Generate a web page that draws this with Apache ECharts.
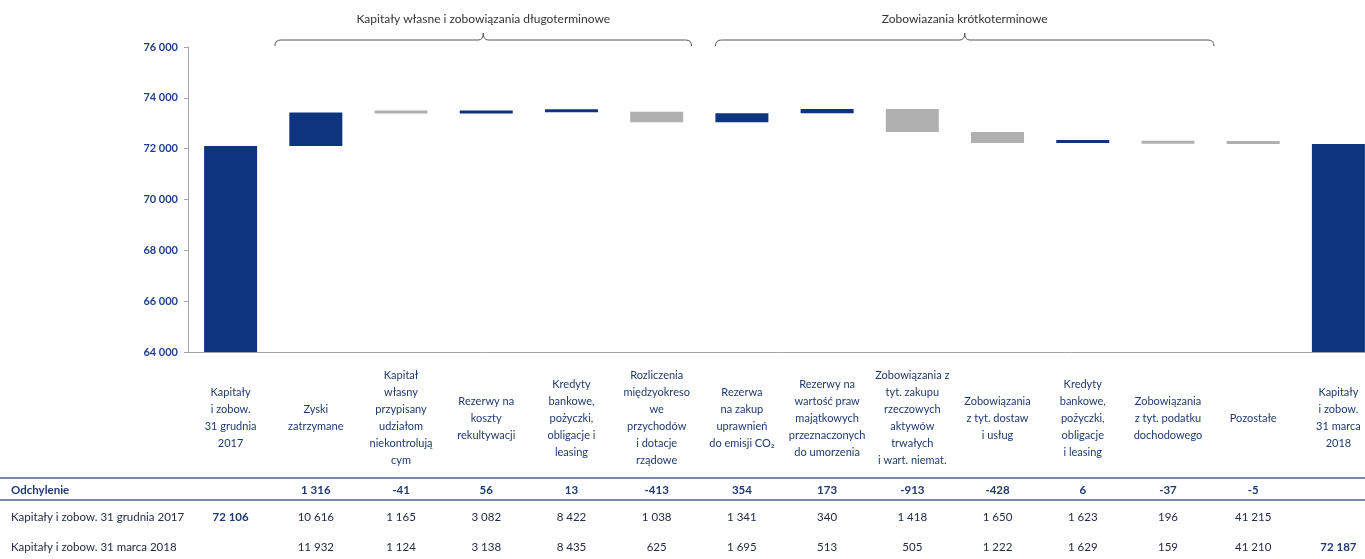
<!DOCTYPE html>
<html lang="pl">
<head>
<meta charset="utf-8">
<title>Kapitały i zobowiązania – zmiana</title>
<script src="https://cdn.jsdelivr.net/npm/echarts@6/dist/echarts.min.js"></script>
<style>
  html, body { margin: 0; padding: 0; background: #ffffff; }
  #chart { width: 1365px; height: 559px; }
</style>
</head>
<body>
<div id="chart"></div>
<script>
// Pozycje bilansu (kategorie osi X)
const categories = [
  'Kapitały\ni zobow.\n31 grudnia\n2017',
  'Zyski\nzatrzymane',
  'Kapitał\nwłasny\nprzypisany\nudziałom\nniekontrolują\ncym',
  'Rezerwy na\nkoszty\nrekultywacji',
  'Kredyty\nbankowe,\npożyczki,\nobligacje i\nleasing',
  'Rozliczenia\nmiędzyokreso\nwe\nprzychodów\ni dotacje\nrządowe',
  'Rezerwa\nna zakup\nuprawnień\ndo emisji CO₂',
  'Rezerwy na\nwartość praw\nmajątkowych\nprzeznaczonych\ndo umorzenia',
  'Zobowiązania z\ntyt. zakupu\nrzeczowych\naktywów\ntrwałych\ni wart. niemat.',
  'Zobowiązania\nz tyt. dostaw\ni usług',
  'Kredyty\nbankowe,\npożyczki,\nobligacje\ni leasing',
  'Zobowiązania\nz tyt. podatku\ndochodowego',
  'Pozostałe',
  'Kapitały\ni zobow.\n31 marca\n2018'
];

// Sumy bilansowe na początek i koniec okresu
const openingTotal = 72106;
const closingTotal = 72187;

// Odchylenia poszczególnych pozycji (środkowe kategorie)
const deviations = [1316, -41, 56, 13, -413, 354, 173, -913, -428, 6, -37, -5];

// Stany pozycji na obie daty
const balanceDec2017 = [10616, 1165, 3082, 8422, 1038, 1341, 340, 1418, 1650, 1623, 196, 41215];
const balanceMar2018 = [11932, 1124, 3138, 8435, 625, 1695, 513, 505, 1222, 1629, 159, 41210];

// Etykiety wierszy tabeli
const rowLabels = ['Odchylenie', 'Kapitały i zobow. 31 grudnia 2017', 'Kapitały i zobow. 31 marca 2018'];

// Zakres osi Y
const yMin = 64000, yMax = 76000, yStep = 2000;

// Grupy pozycji opisane klamrami nad wykresem
const groups = [
  { name: 'Kapitały własne i zobowiązania długoterminowe', from: 1, to: 5, padL: 0.48, padR: 0.41 },
  { name: 'Zobowiazania krótkoterminowe', from: 6, to: 11, padL: 0.31, padR: 0.54 }
];

const NAVY = '#0e347e';
const GREY = '#b0b0b0';
const FONT = 'Lato, "Open Sans", sans-serif';

function fmt(n) {
  const s = String(Math.abs(n)).replace(/\B(?=(\d{3})+(?!\d))/g, ' ');
  return (n < 0 ? '-' : '') + s;
}

// Budowa warstw wykresu kaskadowego
const baseData = [];
const deltaData = [];
let running = openingTotal;
baseData.push('-');
deltaData.push({ value: openingTotal, itemStyle: { color: NAVY } });
deviations.forEach(d => {
  const next = running + d;
  baseData.push(Math.min(running, next));
  deltaData.push({ value: Math.abs(d), itemStyle: { color: d >= 0 ? NAVY : GREY } });
  running = next;
});
baseData.push('-');
deltaData.push({ value: closingTotal, itemStyle: { color: NAVY } });

// Wartości wierszy tabeli w układzie kolumn wykresu
const rowDev = [''].concat(deviations.map(fmt)).concat(['']);
const rowDec = [fmt(openingTotal)].concat(balanceDec2017.map(fmt)).concat(['']);
const rowMar = [''].concat(balanceMar2018.map(fmt)).concat([fmt(closingTotal)]);

const gridLeft = 188, gridTop = 47, gridBottom = 207, gridWidth = 1193;
const axisY = 559 - gridBottom;

function tableAxis(values, offset, boldIdx) {
  return {
    type: 'category',
    data: categories,
    position: 'bottom',
    offset: offset,
    axisLine: { show: false },
    axisTick: { show: false },
    axisLabel: {
      interval: 0,
      margin: 0,
      verticalAlign: 'middle',
      formatter: (v, i) => (boldIdx(i) ? '{b|' + values[i] + '}' : '{n|' + values[i] + '}'),
      rich: {
        b: { fontFamily: FONT, fontSize: 11.5, fontWeight: 'bold', color: '#1f3a72' },
        n: { fontFamily: FONT, fontSize: 11.5, color: '#222c44' }
      }
    }
  };
}

const chart = echarts.init(document.getElementById('chart'), null, { renderer: 'canvas' });

chart.setOption({
  animation: false,
  backgroundColor: '#ffffff',
  grid: {
    left: gridLeft, top: gridTop, bottom: gridBottom, width: gridWidth,
    containLabel: false, outerBoundsMode: 'none'
  },
  xAxis: [
    {
      type: 'category',
      data: categories,
      axisLine: { show: true, lineStyle: { color: '#a6a6a6', width: 1 } },
      axisTick: { show: false },
      axisLabel: {
        interval: 0,
        margin: 66,
        verticalAlign: 'middle',
        fontFamily: FONT,
        fontSize: 11,
        lineHeight: 17,
        color: '#1f3a6e',
        align: 'center'
      }
    },
    tableAxis(rowDev, 490 - axisY, () => true),
    tableAxis(rowDec, 517 - axisY, i => i === 0),
    tableAxis(rowMar, 547 - axisY, i => i === categories.length - 1)
  ],
  yAxis: {
    type: 'value',
    min: yMin,
    max: yMax,
    interval: yStep,
    splitLine: { show: false },
    axisLine: { show: true, lineStyle: { color: '#a6a6a6', width: 1 } },
    axisTick: { show: true, length: 4, lineStyle: { color: '#a6a6a6' } },
    axisLabel: {
      margin: 10,
      fontFamily: FONT,
      fontSize: 11,
      fontWeight: 'bold',
      color: '#1f3f8f',
      formatter: v => fmt(v)
    }
  },
  series: [
    {
      name: 'base',
      type: 'bar',
      stack: 'waterfall',
      barWidth: 53,
      silent: true,
      itemStyle: { color: 'transparent' },
      data: baseData
    },
    {
      name: 'delta',
      type: 'bar',
      stack: 'waterfall',
      barWidth: 53,
      barMinHeight: 3,
      data: deltaData
    }
  ]
});

// Klamry grup, linie i opisy wierszy tabeli
function drawDecorations() {
  const band = gridWidth / categories.length;
  const els = [];
  const braceStyle = { stroke: '#555555', lineWidth: 1, fill: null };
  groups.forEach(g => {
    const x1 = chart.convertToPixel({ xAxisIndex: 0 }, g.from) - band * g.padL;
    const x2 = chart.convertToPixel({ xAxisIndex: 0 }, g.to) + band * g.padR;
    const mid = (x1 + x2) / 2;
    const yb = 40, ye = 46, yt = 33;
    const curve = (ax, ay, cx, cy, bx, by) => ({
      type: 'bezierCurve',
      shape: { x1: ax, y1: ay, x2: bx, y2: by, cpx1: cx, cpy1: cy },
      style: braceStyle
    });
    const seg = (ax, bx) => ({
      type: 'line',
      shape: { x1: ax, y1: yb, x2: bx, y2: yb },
      style: braceStyle
    });
    els.push(curve(x1, ye, x1, yb, x1 + 6, yb));
    els.push(seg(x1 + 6, mid - 5));
    els.push(curve(mid - 5, yb, mid, yb, mid, yt));
    els.push(curve(mid, yt, mid, yb, mid + 5, yb));
    els.push(seg(mid + 5, x2 - 6));
    els.push(curve(x2 - 6, yb, x2, yb, x2, ye));
    els.push({
      type: 'text',
      x: mid, y: 19,
      style: { text: g.name, fill: '#333333', font: '12px ' + FONT, align: 'center', verticalAlign: 'middle' }
    });
  });
  [478, 500].forEach(y => {
    els.push({
      type: 'line',
      shape: { x1: 0, y1: y, x2: 1365, y2: y },
      style: { stroke: '#4a5f8c', lineWidth: 1.5 }
    });
  });
  const rowY = [490, 517, 547];
  rowLabels.forEach((t, i) => {
    els.push({
      type: 'text',
      x: 11, y: rowY[i],
      style: {
        text: t,
        fill: i === 0 ? '#1f3a72' : '#222c44',
        font: (i === 0 ? 'bold ' : '') + '11.5px ' + FONT,
        align: 'left',
        verticalAlign: 'middle'
      }
    });
  });
  chart.setOption({ graphic: els });
}
drawDecorations();
</script>
</body>
</html>
